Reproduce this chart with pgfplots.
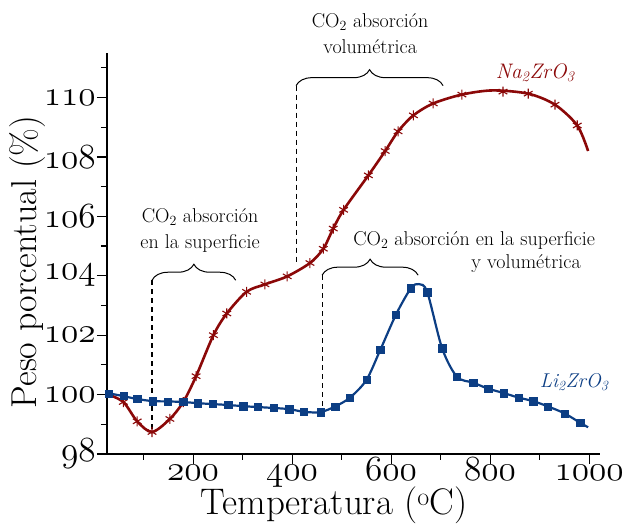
\documentclass[border=0pt]{standalone}
\usepackage{fontspec}
\usepackage{graphicx}
\usepackage{pgfplots}
\pgfplotsset{compat=1.18}
\usetikzlibrary{decorations.pathreplacing}
\definecolor{nared}{RGB}{139,8,8}
\definecolor{liblue}{RGB}{12,62,132}
\newcommand\osn[1]{\scalebox{1.42}{\fontencoding{OML}\fontfamily{cmm}\fontseries{m}\fontshape{it}\fontsize{24.88}{25}\selectfont #1}}
\newcommand\annfont{\fontsize{20}{26}\selectfont}
\begin{document}
\begin{tikzpicture}
\useasboundingbox (-107pt,-75pt) rectangle (516pt,454pt);
\begin{axis}[
  scale only axis, width=493pt, height=401pt,
  xmin=26, xmax=1022, ymin=98, ymax=111.5,
  axis lines*=left,
  axis line style={line width=1.3pt,-},
  clip=false,
  tick align=outside,
  major tick length=10pt, minor tick length=6pt,
  tick style={line width=1.2pt, black},
  xtick={200,400,600,800,1000},
  xticklabels={\osn{200},\osn{400},\osn{600},\osn{800},\osn{1000}},
  minor xtick={100,300,500,700,900},
  ytick={98,100,102,104,106,108,110},
  yticklabels={\osn{98},\osn{100},\osn{102},\osn{104},\osn{106},\osn{108},\osn{110}},
  minor ytick={99,101,103,105,107,109,111},
  tick label style={inner sep=1pt},
  xticklabel style={anchor=base, yshift=-17pt},
  xlabel={Temperatura (\textsuperscript{o}C)},
  xlabel style={font=\fontsize{37}{40}\selectfont, at={(axis description cs:0.4605,-0.127)}, anchor=center},
  ylabel={Peso porcentual (\%)},
  ylabel style={font=\fontsize{36}{40}\selectfont, at={(axis description cs:-0.162,0.479)}, anchor=center, rotate=0},
]
% Na2ZrO3 line
\addplot[nared, line width=2.6pt, smooth, no marks] coordinates {
(26,100.02) (59,99.75) (87,99.1) (117,98.74) (153,99.18) (180,99.75) (206,100.62)
(241,102.0) (268,102.73) (308,103.46) (345,103.71) (390,103.98) (436,104.43)
(463,104.91) (483,105.59) (504,106.22) (554,107.38) (588,108.2) (614,108.86)
(645,109.4) (685,109.8) (743,110.1) (805,110.24) (877,110.13) (931,109.76)
(976,109.06) (998,108.2)
};
\addplot[nared, only marks, mark=asterisk, mark size=5pt, mark options={line width=1.1pt}] coordinates {
(59,99.75) (87,99.1) (117,98.74) (153,99.18) (180,99.75) (206,100.62)
(241,102.0) (268,102.73) (308,103.46) (345,103.71) (390,103.98) (436,104.43)
(463,104.91) (483,105.59) (504,106.22) (554,107.38) (588,108.2) (614,108.86)
(645,109.4) (685,109.8) (743,110.1) (826,110.2) (877,110.13) (931,109.76)
(976,109.06)
};
% Li2ZrO3 line
\addplot[liblue, line width=2.2pt, smooth, no marks] coordinates {
(26,100.05) (30,100.04) (59,99.95) (87,99.85) (119,99.78) (149,99.77) (180,99.75)
(210,99.71) (240,99.68) (271,99.65) (301,99.61) (331,99.58) (362,99.55)
(394,99.51) (424,99.42) (457,99.41) (487,99.6) (517,99.9) (550,100.49)
(578,101.5) (610,102.7) (640,103.58) (656,103.72) (673,103.45) (703,101.56)
(733,100.6) (766,100.4) (796,100.2) (828,100.05) (857,99.9) (887,99.78)
(917,99.6) (950,99.37) (982,99.05) (998,98.9)
};
\addplot[liblue, only marks, mark=square*, mark size=3.6pt] coordinates {
(30,100.04) (59,99.95) (87,99.85) (119,99.78) (149,99.77) (180,99.75)
(210,99.71) (240,99.68) (271,99.65) (301,99.61) (331,99.58) (362,99.55)
(394,99.51) (424,99.42) (457,99.41) (487,99.6) (517,99.9) (550,100.49)
(578,101.5) (610,102.7) (640,103.58) (673,103.45) (703,101.56)
(733,100.6) (766,100.4) (796,100.2) (828,100.05) (857,99.9) (887,99.78)
(917,99.6) (950,99.37) (982,99.05)
};
% braces and dashed guides
\draw[black, line width=1pt, decorate, decoration={brace, amplitude=16pt}]
  (axis cs:117,103.85) -- (axis cs:286,103.85);
\draw[black, line width=1.1pt, dash pattern=on 5pt off 4pt] (axis cs:117,103.85) -- (axis cs:117,98.8);
\draw[black, line width=1pt, decorate, decoration={brace, amplitude=16pt}]
  (axis cs:408,110.40) -- (axis cs:705,110.40);
\draw[black, line width=1.1pt, dash pattern=on 5pt off 4pt] (axis cs:408,110.40) -- (axis cs:408,104.35);
\draw[black, line width=1pt, decorate, decoration={brace, amplitude=16pt}]
  (axis cs:460.6,104.02) -- (axis cs:654.5,104.02);
\draw[black, line width=1.1pt, dash pattern=on 5pt off 4pt] (axis cs:460.6,104.02) -- (axis cs:460.6,99.45);
% annotation texts
\node[align=center, font=\annfont, text=black] at (axis cs:214,105.53) {CO\textsubscript{2} absorción\\en la superficie};
\node[align=center, font=\annfont, text=black] at (axis cs:557.6,112.17) {CO\textsubscript{2} absorción\\volumétrica};
\node[font=\annfont, text=black] at (axis cs:767.7,105.19) {CO\textsubscript{2} absorción en la superficie};
\node[font=\annfont, text=black] at (axis cs:872.7,104.4) {y volumétrica};
\node[font=\fontsize{21}{24}\selectfont, text=nared] at (axis cs:891,110.84) {\textit{Na\textsubscript{2}ZrO\textsubscript{3}}};
\node[font=\fontsize{20}{24}\selectfont, text=liblue] at (axis cs:969.7,100.42) {\textit{Li\textsubscript{2}ZrO\textsubscript{3}}};
\end{axis}
\end{tikzpicture}
\end{document}
